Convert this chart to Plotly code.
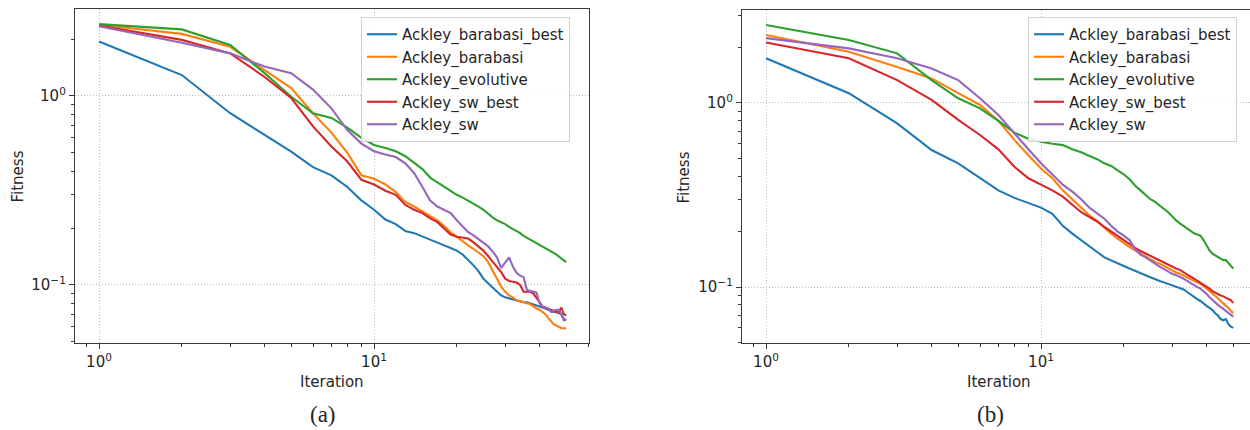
import plotly.graph_objects as go

# Iterations shared by every run
iterations = list(range(1, 51))

series_names = ["Ackley_barabasi_best", "Ackley_barabasi", "Ackley_evolutive",
                "Ackley_sw_best", "Ackley_sw"]
series_colors = ["#1f77b4", "#ff7f0e", "#2ca02c", "#d62728", "#9467bd"]

# ---- panel (a) ----
a_barabasi_best = [1.94, 1.29, 0.81, 0.62, 0.507, 0.42, 0.38, 0.33, 0.28, 0.25,
                   0.222, 0.21, 0.193, 0.188, 0.18, 0.173, 0.167, 0.162, 0.157, 0.152,
                   0.145, 0.136, 0.127, 0.118, 0.108, 0.102, 0.097, 0.092, 0.088, 0.086,
                   0.085, 0.084, 0.083, 0.082, 0.081, 0.081, 0.080, 0.079, 0.078, 0.077,
                   0.076, 0.075, 0.074, 0.073, 0.072, 0.072, 0.071, 0.070, 0.066, 0.065]
a_barabasi = [2.38, 2.13, 1.82, 1.37, 1.10, 0.81, 0.64, 0.50, 0.38, 0.365,
              0.34, 0.31, 0.275, 0.26, 0.245, 0.232, 0.22, 0.205, 0.19, 0.18,
              0.17, 0.162, 0.155, 0.148, 0.142, 0.132, 0.12, 0.108, 0.098, 0.092,
              0.088, 0.086, 0.083, 0.082, 0.081, 0.080, 0.079, 0.077, 0.075, 0.074,
              0.072, 0.070, 0.067, 0.064, 0.062, 0.061, 0.060, 0.059, 0.059, 0.059]
a_evolutive = [2.40, 2.25, 1.86, 1.32, 0.99, 0.81, 0.765, 0.68, 0.60, 0.55,
               0.53, 0.51, 0.48, 0.44, 0.41, 0.37, 0.35, 0.33, 0.315, 0.30,
               0.29, 0.28, 0.27, 0.26, 0.25, 0.238, 0.228, 0.22, 0.215, 0.21,
               0.203, 0.198, 0.192, 0.188, 0.182, 0.178, 0.173, 0.17, 0.166, 0.163,
               0.16, 0.157, 0.154, 0.151, 0.148, 0.145, 0.142, 0.138, 0.135, 0.132]
a_sw_best = [2.36, 1.98, 1.68, 1.26, 0.975, 0.69, 0.54, 0.45, 0.36, 0.34,
             0.315, 0.30, 0.265, 0.25, 0.24, 0.225, 0.215, 0.20, 0.185, 0.18,
             0.178, 0.176, 0.168, 0.16, 0.152, 0.142, 0.133, 0.125, 0.117, 0.108,
             0.105, 0.104, 0.103, 0.10, 0.092, 0.092, 0.092, 0.09, 0.085, 0.08,
             0.077, 0.076, 0.075, 0.074, 0.073, 0.072, 0.072, 0.076, 0.070, 0.069]
a_sw = [2.34, 1.91, 1.68, 1.43, 1.32, 1.08, 0.86, 0.66, 0.56, 0.51,
        0.49, 0.475, 0.44, 0.39, 0.33, 0.28, 0.26, 0.25, 0.24, 0.22,
        0.205, 0.19, 0.183, 0.175, 0.168, 0.16, 0.15, 0.14, 0.123, 0.132,
        0.14, 0.125, 0.116, 0.112, 0.11, 0.094, 0.093, 0.092, 0.091, 0.08,
        0.077, 0.076, 0.075, 0.072, 0.073, 0.074, 0.074, 0.070, 0.065, 0.066]

# ---- panel (b) ----
b_barabasi_best = [1.75, 1.13, 0.775, 0.555, 0.47, 0.39, 0.335, 0.305, 0.285, 0.27,
                   0.25, 0.215, 0.195, 0.18, 0.168, 0.155, 0.145, 0.14, 0.135, 0.13,
                   0.126, 0.122, 0.119, 0.116, 0.113, 0.11, 0.108, 0.106, 0.104, 0.102,
                   0.10, 0.099, 0.097, 0.094, 0.091, 0.088, 0.086, 0.084, 0.081, 0.079,
                   0.077, 0.075, 0.072, 0.070, 0.067, 0.066, 0.067, 0.063, 0.061, 0.060]
b_barabasi = [2.34, 1.90, 1.57, 1.36, 1.13, 0.975, 0.80, 0.63, 0.52, 0.44,
              0.39, 0.335, 0.30, 0.27, 0.245, 0.228, 0.21, 0.195, 0.183, 0.173,
              0.165, 0.158, 0.152, 0.146, 0.141, 0.137, 0.134, 0.13, 0.127, 0.123,
              0.12, 0.118, 0.115, 0.113, 0.11, 0.108, 0.106, 0.104, 0.101, 0.098,
              0.095, 0.092, 0.09, 0.087, 0.084, 0.081, 0.079, 0.077, 0.074, 0.072]
b_evolutive = [2.65, 2.20, 1.86, 1.33, 1.06, 0.935, 0.80, 0.69, 0.64, 0.615,
               0.60, 0.59, 0.56, 0.54, 0.515, 0.495, 0.47, 0.455, 0.43, 0.41,
               0.385, 0.355, 0.335, 0.315, 0.30, 0.29, 0.278, 0.265, 0.255, 0.242,
               0.23, 0.222, 0.215, 0.207, 0.20, 0.196, 0.193, 0.19, 0.18, 0.168,
               0.158, 0.152, 0.149, 0.146, 0.143, 0.14, 0.14, 0.135, 0.13, 0.126]
b_sw_best = [2.13, 1.75, 1.33, 1.04, 0.81, 0.67, 0.56, 0.45, 0.39, 0.36,
             0.335, 0.31, 0.28, 0.255, 0.24, 0.227, 0.212, 0.20, 0.19, 0.18,
             0.17, 0.163, 0.157, 0.152, 0.147, 0.143, 0.14, 0.136, 0.132, 0.128,
             0.126, 0.124, 0.12, 0.117, 0.114, 0.111, 0.108, 0.106, 0.103, 0.101,
             0.098, 0.095, 0.093, 0.092, 0.09, 0.089, 0.087, 0.086, 0.085, 0.082]
b_sw = [2.25, 1.98, 1.75, 1.54, 1.33, 1.06, 0.86, 0.68, 0.56, 0.47,
        0.41, 0.36, 0.33, 0.30, 0.27, 0.25, 0.235, 0.215, 0.20, 0.19,
        0.18, 0.16, 0.15, 0.145, 0.14, 0.134, 0.129, 0.125, 0.121, 0.118,
        0.116, 0.114, 0.111, 0.108, 0.105, 0.102, 0.10, 0.098, 0.095, 0.092,
        0.088, 0.085, 0.082, 0.08, 0.078, 0.076, 0.074, 0.072, 0.070, 0.069]

panel_a = [a_barabasi_best, a_barabasi, a_evolutive, a_sw_best, a_sw]
panel_b = [b_barabasi_best, b_barabasi, b_evolutive, b_sw_best, b_sw]

# Tick labels
x_major = [1, 10]
x_major_text = ["10<sup>0</sup>", "10<sup>1</sup>"]
y_major = [0.1, 1]
y_major_text = ["10<sup>\u22121</sup>", "10<sup>0</sup>"]

W, H = 1250, 430
TXT = "#262626"
AX = "#3a3a3a"
FONT = "DejaVu Sans"

fig = go.Figure()

for i, (name, color) in enumerate(zip(series_names, series_colors)):
    fig.add_trace(go.Scatter(x=iterations, y=panel_a[i], mode="lines", name=name,
                             line=dict(color=color, width=2.1), xaxis="x", yaxis="y",
                             legend="legend"))
for i, (name, color) in enumerate(zip(series_names, series_colors)):
    fig.add_trace(go.Scatter(x=iterations, y=panel_b[i], mode="lines", name=name,
                             line=dict(color=color, width=2.1), xaxis="x2", yaxis="y2",
                             legend="legend2"))

common_axis = dict(
    type="log", tickmode="array",
    ticks="outside", ticklen=5, tickwidth=1.2, tickcolor=AX,
    showline=True, linecolor=AX, linewidth=1.3, mirror=True,
    showgrid=True, gridcolor="#bdbdbd", griddash="1px,2px", gridwidth=1,
    zeroline=False, tickfont=dict(family=FONT, size=15, color=TXT),
    minor=dict(dtick="D1", ticks="outside", ticklen=3, tickwidth=1,
               tickcolor=AX, showgrid=False),
)


def xaxis(domain, rng, anchor):
    return common_axis | dict(domain=domain, range=rng, anchor=anchor,
                              tickvals=x_major, ticktext=x_major_text)


def yaxis(domain, rng, anchor):
    return common_axis | dict(domain=domain, range=rng, anchor=anchor,
                              tickvals=y_major, ticktext=y_major_text)


legend_style = dict(bgcolor="rgba(255,255,255,0.85)", bordercolor="#d0d0d0", borderwidth=1,
                    font=dict(family=FONT, size=15, color=TXT),
                    xanchor="left", yanchor="top", tracegroupgap=0, itemwidth=30)

fig.update_layout(
    width=W, height=H,
    margin=dict(l=0, r=0, t=0, b=0),
    paper_bgcolor="white", plot_bgcolor="white",
    showlegend=True,
    xaxis=xaxis([75 / W, 589 / W], [-0.0873, 1.7818], "y"),
    yaxis=yaxis([1 - 343 / H, 1 - 9 / H], [-1.307, 0.460], "x"),
    xaxis2=xaxis([742 / W, 1.0], [-0.0873, 1.7600], "y2"),
    yaxis2=yaxis([1 - 343 / H, 1 - 10 / H], [-1.304, 0.505], "x2"),
    legend=legend_style | dict(x=361 / W, y=1 - 17 / H),
    legend2=legend_style | dict(x=1028 / W, y=1 - 17 / H),
)

# Axis titles and panel captions
labels = [
    ("Fitness", 17.5, 177, -90, FONT, 15),
    ("Fitness", 683.5, 177, -90, FONT, 15),
    ("Iteration", 332, 382, 0, FONT, 15),
    ("Iteration", 999, 382, 0, FONT, 15),
    ("(a)", 322.5, 414, 0, "Liberation Serif", 23),
    ("(b)", 991, 414, 0, "Liberation Serif", 23),
]
for text, px, py, ang, fam, size in labels:
    fig.add_annotation(text=text, x=px / W, y=1 - py / H, xref="paper", yref="paper",
                       showarrow=False, textangle=ang, xanchor="center", yanchor="middle",
                       font=dict(family=fam, size=size, color=TXT))

fig.write_html("out.html")
